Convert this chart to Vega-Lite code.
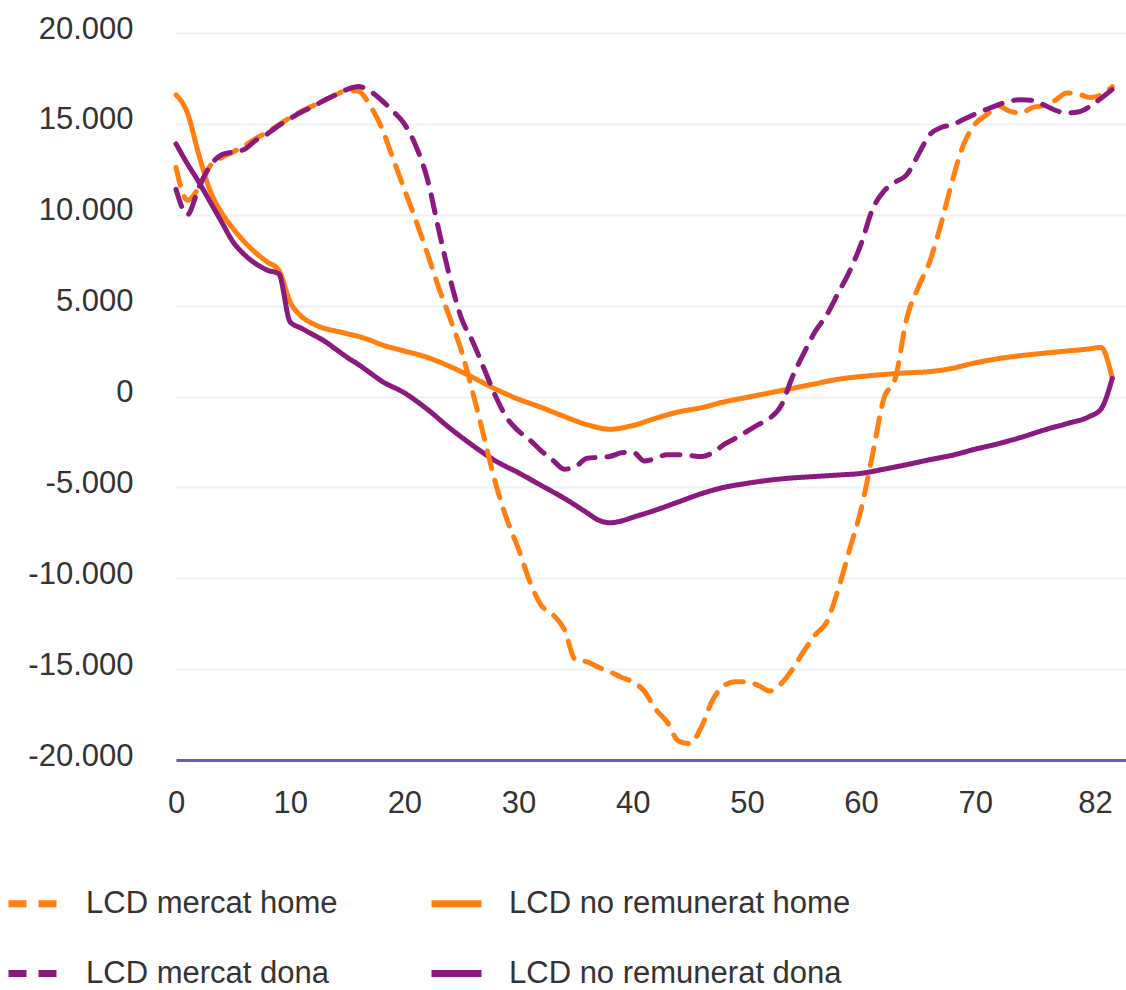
{
  "$schema": "https://vega.github.io/schema/vega-lite/v6.json",
  "width": 950,
  "height": 727,
  "autosize": {"type": "none"},
  "padding": {"left": 176, "top": 33, "right": 0, "bottom": 230},
  "background": "white",
  "config": {
    "view": {"stroke": null},
    "font": "Liberation Sans",
    "axis": {"labelFont": "Liberation Sans", "labelFontSize": 31, "labelColor": "#333333"},
    "legend": {"labelFont": "Liberation Sans", "labelFontSize": 31, "labelColor": "#333333"}
  },
  "datasets": {
    "lcd": [
      {"serie": "LCD no remunerat home", "edat": 0, "valor": 16600},
      {"serie": "LCD no remunerat home", "edat": 1, "valor": 15600},
      {"serie": "LCD no remunerat home", "edat": 2, "valor": 13300},
      {"serie": "LCD no remunerat home", "edat": 3, "valor": 11300},
      {"serie": "LCD no remunerat home", "edat": 4, "valor": 10100},
      {"serie": "LCD no remunerat home", "edat": 5, "valor": 9240},
      {"serie": "LCD no remunerat home", "edat": 6, "valor": 8500},
      {"serie": "LCD no remunerat home", "edat": 7, "valor": 7900},
      {"serie": "LCD no remunerat home", "edat": 8, "valor": 7400},
      {"serie": "LCD no remunerat home", "edat": 9, "valor": 6950},
      {"serie": "LCD no remunerat home", "edat": 10, "valor": 5200},
      {"serie": "LCD no remunerat home", "edat": 11, "valor": 4400},
      {"serie": "LCD no remunerat home", "edat": 12, "valor": 4000},
      {"serie": "LCD no remunerat home", "edat": 13, "valor": 3750},
      {"serie": "LCD no remunerat home", "edat": 14, "valor": 3600},
      {"serie": "LCD no remunerat home", "edat": 15, "valor": 3450},
      {"serie": "LCD no remunerat home", "edat": 16, "valor": 3300},
      {"serie": "LCD no remunerat home", "edat": 17, "valor": 3100},
      {"serie": "LCD no remunerat home", "edat": 18, "valor": 2850},
      {"serie": "LCD no remunerat home", "edat": 20, "valor": 2500},
      {"serie": "LCD no remunerat home", "edat": 22, "valor": 2150},
      {"serie": "LCD no remunerat home", "edat": 24, "valor": 1650},
      {"serie": "LCD no remunerat home", "edat": 26, "valor": 1050},
      {"serie": "LCD no remunerat home", "edat": 28, "valor": 400},
      {"serie": "LCD no remunerat home", "edat": 30, "valor": -150},
      {"serie": "LCD no remunerat home", "edat": 32, "valor": -600},
      {"serie": "LCD no remunerat home", "edat": 34, "valor": -1100},
      {"serie": "LCD no remunerat home", "edat": 36, "valor": -1550},
      {"serie": "LCD no remunerat home", "edat": 38, "valor": -1800},
      {"serie": "LCD no remunerat home", "edat": 40, "valor": -1600},
      {"serie": "LCD no remunerat home", "edat": 42, "valor": -1200},
      {"serie": "LCD no remunerat home", "edat": 44, "valor": -850},
      {"serie": "LCD no remunerat home", "edat": 46, "valor": -620},
      {"serie": "LCD no remunerat home", "edat": 48, "valor": -300},
      {"serie": "LCD no remunerat home", "edat": 50, "valor": -50},
      {"serie": "LCD no remunerat home", "edat": 52, "valor": 200},
      {"serie": "LCD no remunerat home", "edat": 54, "valor": 450},
      {"serie": "LCD no remunerat home", "edat": 56, "valor": 700},
      {"serie": "LCD no remunerat home", "edat": 58, "valor": 950},
      {"serie": "LCD no remunerat home", "edat": 60, "valor": 1100},
      {"serie": "LCD no remunerat home", "edat": 62, "valor": 1210},
      {"serie": "LCD no remunerat home", "edat": 64, "valor": 1300},
      {"serie": "LCD no remunerat home", "edat": 66, "valor": 1370},
      {"serie": "LCD no remunerat home", "edat": 68, "valor": 1550},
      {"serie": "LCD no remunerat home", "edat": 70, "valor": 1850},
      {"serie": "LCD no remunerat home", "edat": 72, "valor": 2080},
      {"serie": "LCD no remunerat home", "edat": 74, "valor": 2250},
      {"serie": "LCD no remunerat home", "edat": 76, "valor": 2380},
      {"serie": "LCD no remunerat home", "edat": 78, "valor": 2500},
      {"serie": "LCD no remunerat home", "edat": 80, "valor": 2620},
      {"serie": "LCD no remunerat home", "edat": 81, "valor": 2700},
      {"serie": "LCD no remunerat home", "edat": 82, "valor": 1000},

      {"serie": "LCD no remunerat dona", "edat": 0, "valor": 13900},
      {"serie": "LCD no remunerat dona", "edat": 1, "valor": 12800},
      {"serie": "LCD no remunerat dona", "edat": 2, "valor": 11800},
      {"serie": "LCD no remunerat dona", "edat": 3, "valor": 10700},
      {"serie": "LCD no remunerat dona", "edat": 4, "valor": 9600},
      {"serie": "LCD no remunerat dona", "edat": 5, "valor": 8500},
      {"serie": "LCD no remunerat dona", "edat": 6, "valor": 7800},
      {"serie": "LCD no remunerat dona", "edat": 7, "valor": 7300},
      {"serie": "LCD no remunerat dona", "edat": 8, "valor": 6950},
      {"serie": "LCD no remunerat dona", "edat": 9, "valor": 6750},
      {"serie": "LCD no remunerat dona", "edat": 10, "valor": 4100},
      {"serie": "LCD no remunerat dona", "edat": 11, "valor": 3750},
      {"serie": "LCD no remunerat dona", "edat": 12, "valor": 3400},
      {"serie": "LCD no remunerat dona", "edat": 13, "valor": 3050},
      {"serie": "LCD no remunerat dona", "edat": 14, "valor": 2600},
      {"serie": "LCD no remunerat dona", "edat": 15, "valor": 2150},
      {"serie": "LCD no remunerat dona", "edat": 16, "valor": 1750},
      {"serie": "LCD no remunerat dona", "edat": 17, "valor": 1300},
      {"serie": "LCD no remunerat dona", "edat": 18, "valor": 850},
      {"serie": "LCD no remunerat dona", "edat": 20, "valor": 200},
      {"serie": "LCD no remunerat dona", "edat": 22, "valor": -700},
      {"serie": "LCD no remunerat dona", "edat": 24, "valor": -1750},
      {"serie": "LCD no remunerat dona", "edat": 26, "valor": -2700},
      {"serie": "LCD no remunerat dona", "edat": 28, "valor": -3550},
      {"serie": "LCD no remunerat dona", "edat": 30, "valor": -4200},
      {"serie": "LCD no remunerat dona", "edat": 32, "valor": -4900},
      {"serie": "LCD no remunerat dona", "edat": 34, "valor": -5600},
      {"serie": "LCD no remunerat dona", "edat": 36, "valor": -6400},
      {"serie": "LCD no remunerat dona", "edat": 37, "valor": -6800},
      {"serie": "LCD no remunerat dona", "edat": 38, "valor": -6950},
      {"serie": "LCD no remunerat dona", "edat": 39, "valor": -6850},
      {"serie": "LCD no remunerat dona", "edat": 40, "valor": -6650},
      {"serie": "LCD no remunerat dona", "edat": 42, "valor": -6250},
      {"serie": "LCD no remunerat dona", "edat": 44, "valor": -5800},
      {"serie": "LCD no remunerat dona", "edat": 46, "valor": -5350},
      {"serie": "LCD no remunerat dona", "edat": 48, "valor": -5000},
      {"serie": "LCD no remunerat dona", "edat": 50, "valor": -4780},
      {"serie": "LCD no remunerat dona", "edat": 52, "valor": -4600},
      {"serie": "LCD no remunerat dona", "edat": 54, "valor": -4480},
      {"serie": "LCD no remunerat dona", "edat": 56, "valor": -4400},
      {"serie": "LCD no remunerat dona", "edat": 58, "valor": -4320},
      {"serie": "LCD no remunerat dona", "edat": 60, "valor": -4230},
      {"serie": "LCD no remunerat dona", "edat": 62, "valor": -4000},
      {"serie": "LCD no remunerat dona", "edat": 64, "valor": -3750},
      {"serie": "LCD no remunerat dona", "edat": 66, "valor": -3480},
      {"serie": "LCD no remunerat dona", "edat": 68, "valor": -3230},
      {"serie": "LCD no remunerat dona", "edat": 70, "valor": -2900},
      {"serie": "LCD no remunerat dona", "edat": 72, "valor": -2600},
      {"serie": "LCD no remunerat dona", "edat": 74, "valor": -2250},
      {"serie": "LCD no remunerat dona", "edat": 76, "valor": -1850},
      {"serie": "LCD no remunerat dona", "edat": 78, "valor": -1500},
      {"serie": "LCD no remunerat dona", "edat": 80, "valor": -1100},
      {"serie": "LCD no remunerat dona", "edat": 81, "valor": -700},
      {"serie": "LCD no remunerat dona", "edat": 82, "valor": 1000},

      {"serie": "LCD mercat home", "edat": 0, "valor": 12600},
      {"serie": "LCD mercat home", "edat": 1, "valor": 10800},
      {"serie": "LCD mercat home", "edat": 2, "valor": 11500},
      {"serie": "LCD mercat home", "edat": 3, "valor": 12700},
      {"serie": "LCD mercat home", "edat": 4, "valor": 13150},
      {"serie": "LCD mercat home", "edat": 5, "valor": 13450},
      {"serie": "LCD mercat home", "edat": 6, "valor": 13800},
      {"serie": "LCD mercat home", "edat": 7, "valor": 14200},
      {"serie": "LCD mercat home", "edat": 8, "valor": 14550},
      {"serie": "LCD mercat home", "edat": 9, "valor": 14950},
      {"serie": "LCD mercat home", "edat": 10, "valor": 15350},
      {"serie": "LCD mercat home", "edat": 11, "valor": 15700},
      {"serie": "LCD mercat home", "edat": 12, "valor": 16000},
      {"serie": "LCD mercat home", "edat": 13, "valor": 16300},
      {"serie": "LCD mercat home", "edat": 14, "valor": 16600},
      {"serie": "LCD mercat home", "edat": 15, "valor": 16850},
      {"serie": "LCD mercat home", "edat": 16, "valor": 16800},
      {"serie": "LCD mercat home", "edat": 17, "valor": 16000},
      {"serie": "LCD mercat home", "edat": 18, "valor": 14800},
      {"serie": "LCD mercat home", "edat": 19, "valor": 13100},
      {"serie": "LCD mercat home", "edat": 20, "valor": 11400},
      {"serie": "LCD mercat home", "edat": 21, "valor": 9700},
      {"serie": "LCD mercat home", "edat": 22, "valor": 7900},
      {"serie": "LCD mercat home", "edat": 23, "valor": 6000},
      {"serie": "LCD mercat home", "edat": 24, "valor": 4300},
      {"serie": "LCD mercat home", "edat": 25, "valor": 2500},
      {"serie": "LCD mercat home", "edat": 26, "valor": 200},
      {"serie": "LCD mercat home", "edat": 27, "valor": -2300},
      {"serie": "LCD mercat home", "edat": 28, "valor": -4800},
      {"serie": "LCD mercat home", "edat": 29, "valor": -6800},
      {"serie": "LCD mercat home", "edat": 30, "valor": -8400},
      {"serie": "LCD mercat home", "edat": 31, "valor": -10200},
      {"serie": "LCD mercat home", "edat": 32, "valor": -11500},
      {"serie": "LCD mercat home", "edat": 33, "valor": -12000},
      {"serie": "LCD mercat home", "edat": 34, "valor": -12800},
      {"serie": "LCD mercat home", "edat": 35, "valor": -14500},
      {"serie": "LCD mercat home", "edat": 36, "valor": -14600},
      {"serie": "LCD mercat home", "edat": 37, "valor": -14900},
      {"serie": "LCD mercat home", "edat": 38, "valor": -15150},
      {"serie": "LCD mercat home", "edat": 39, "valor": -15450},
      {"serie": "LCD mercat home", "edat": 40, "valor": -15700},
      {"serie": "LCD mercat home", "edat": 41, "valor": -16200},
      {"serie": "LCD mercat home", "edat": 42, "valor": -17200},
      {"serie": "LCD mercat home", "edat": 43, "valor": -17900},
      {"serie": "LCD mercat home", "edat": 44, "valor": -18950},
      {"serie": "LCD mercat home", "edat": 45, "valor": -19100},
      {"serie": "LCD mercat home", "edat": 46, "valor": -18200},
      {"serie": "LCD mercat home", "edat": 47, "valor": -16700},
      {"serie": "LCD mercat home", "edat": 48, "valor": -15900},
      {"serie": "LCD mercat home", "edat": 49, "valor": -15700},
      {"serie": "LCD mercat home", "edat": 50, "valor": -15700},
      {"serie": "LCD mercat home", "edat": 51, "valor": -15900},
      {"serie": "LCD mercat home", "edat": 52, "valor": -16200},
      {"serie": "LCD mercat home", "edat": 53, "valor": -15800},
      {"serie": "LCD mercat home", "edat": 54, "valor": -15000},
      {"serie": "LCD mercat home", "edat": 55, "valor": -14000},
      {"serie": "LCD mercat home", "edat": 56, "valor": -13100},
      {"serie": "LCD mercat home", "edat": 57, "valor": -12400},
      {"serie": "LCD mercat home", "edat": 58, "valor": -10600},
      {"serie": "LCD mercat home", "edat": 59, "valor": -8400},
      {"serie": "LCD mercat home", "edat": 60, "valor": -6200},
      {"serie": "LCD mercat home", "edat": 61, "valor": -3200},
      {"serie": "LCD mercat home", "edat": 62, "valor": -100},
      {"serie": "LCD mercat home", "edat": 63, "valor": 1000},
      {"serie": "LCD mercat home", "edat": 64, "valor": 4300},
      {"serie": "LCD mercat home", "edat": 65, "valor": 6000},
      {"serie": "LCD mercat home", "edat": 66, "valor": 7400},
      {"serie": "LCD mercat home", "edat": 67, "valor": 9500},
      {"serie": "LCD mercat home", "edat": 68, "valor": 11900},
      {"serie": "LCD mercat home", "edat": 69, "valor": 13900},
      {"serie": "LCD mercat home", "edat": 70, "valor": 15000},
      {"serie": "LCD mercat home", "edat": 71, "valor": 15500},
      {"serie": "LCD mercat home", "edat": 72, "valor": 16000},
      {"serie": "LCD mercat home", "edat": 73, "valor": 15700},
      {"serie": "LCD mercat home", "edat": 74, "valor": 15600},
      {"serie": "LCD mercat home", "edat": 75, "valor": 15900},
      {"serie": "LCD mercat home", "edat": 76, "valor": 16000},
      {"serie": "LCD mercat home", "edat": 77, "valor": 16300},
      {"serie": "LCD mercat home", "edat": 78, "valor": 16700},
      {"serie": "LCD mercat home", "edat": 79, "valor": 16650},
      {"serie": "LCD mercat home", "edat": 80, "valor": 16450},
      {"serie": "LCD mercat home", "edat": 81, "valor": 16600},
      {"serie": "LCD mercat home", "edat": 82, "valor": 17050},

      {"serie": "LCD mercat dona", "edat": 0, "valor": 11400},
      {"serie": "LCD mercat dona", "edat": 1, "valor": 10000},
      {"serie": "LCD mercat dona", "edat": 2, "valor": 11500},
      {"serie": "LCD mercat dona", "edat": 3, "valor": 12700},
      {"serie": "LCD mercat dona", "edat": 4, "valor": 13300},
      {"serie": "LCD mercat dona", "edat": 5, "valor": 13450},
      {"serie": "LCD mercat dona", "edat": 6, "valor": 13600},
      {"serie": "LCD mercat dona", "edat": 7, "valor": 14100},
      {"serie": "LCD mercat dona", "edat": 8, "valor": 14450},
      {"serie": "LCD mercat dona", "edat": 9, "valor": 14900},
      {"serie": "LCD mercat dona", "edat": 10, "valor": 15300},
      {"serie": "LCD mercat dona", "edat": 11, "valor": 15650},
      {"serie": "LCD mercat dona", "edat": 12, "valor": 15950},
      {"serie": "LCD mercat dona", "edat": 13, "valor": 16300},
      {"serie": "LCD mercat dona", "edat": 14, "valor": 16600},
      {"serie": "LCD mercat dona", "edat": 15, "valor": 16900},
      {"serie": "LCD mercat dona", "edat": 16, "valor": 17050},
      {"serie": "LCD mercat dona", "edat": 17, "valor": 16800},
      {"serie": "LCD mercat dona", "edat": 18, "valor": 16300},
      {"serie": "LCD mercat dona", "edat": 19, "valor": 15700},
      {"serie": "LCD mercat dona", "edat": 20, "valor": 15000},
      {"serie": "LCD mercat dona", "edat": 21, "valor": 13800},
      {"serie": "LCD mercat dona", "edat": 22, "valor": 12000},
      {"serie": "LCD mercat dona", "edat": 23, "valor": 9200},
      {"serie": "LCD mercat dona", "edat": 24, "valor": 6500},
      {"serie": "LCD mercat dona", "edat": 25, "valor": 4300},
      {"serie": "LCD mercat dona", "edat": 26, "valor": 3000},
      {"serie": "LCD mercat dona", "edat": 27, "valor": 1500},
      {"serie": "LCD mercat dona", "edat": 28, "valor": 0},
      {"serie": "LCD mercat dona", "edat": 29, "valor": -1200},
      {"serie": "LCD mercat dona", "edat": 30, "valor": -1900},
      {"serie": "LCD mercat dona", "edat": 31, "valor": -2400},
      {"serie": "LCD mercat dona", "edat": 32, "valor": -3000},
      {"serie": "LCD mercat dona", "edat": 33, "valor": -3500},
      {"serie": "LCD mercat dona", "edat": 34, "valor": -4000},
      {"serie": "LCD mercat dona", "edat": 35, "valor": -3850},
      {"serie": "LCD mercat dona", "edat": 36, "valor": -3400},
      {"serie": "LCD mercat dona", "edat": 37, "valor": -3350},
      {"serie": "LCD mercat dona", "edat": 38, "valor": -3300},
      {"serie": "LCD mercat dona", "edat": 39, "valor": -3100},
      {"serie": "LCD mercat dona", "edat": 40, "valor": -3050},
      {"serie": "LCD mercat dona", "edat": 41, "valor": -3550},
      {"serie": "LCD mercat dona", "edat": 42, "valor": -3400},
      {"serie": "LCD mercat dona", "edat": 43, "valor": -3200},
      {"serie": "LCD mercat dona", "edat": 44, "valor": -3200},
      {"serie": "LCD mercat dona", "edat": 45, "valor": -3250},
      {"serie": "LCD mercat dona", "edat": 46, "valor": -3300},
      {"serie": "LCD mercat dona", "edat": 47, "valor": -3100},
      {"serie": "LCD mercat dona", "edat": 48, "valor": -2640},
      {"serie": "LCD mercat dona", "edat": 49, "valor": -2300},
      {"serie": "LCD mercat dona", "edat": 50, "valor": -1925},
      {"serie": "LCD mercat dona", "edat": 51, "valor": -1550},
      {"serie": "LCD mercat dona", "edat": 52, "valor": -1200},
      {"serie": "LCD mercat dona", "edat": 53, "valor": -500},
      {"serie": "LCD mercat dona", "edat": 54, "valor": 1100},
      {"serie": "LCD mercat dona", "edat": 55, "valor": 2400},
      {"serie": "LCD mercat dona", "edat": 56, "valor": 3600},
      {"serie": "LCD mercat dona", "edat": 57, "valor": 4500},
      {"serie": "LCD mercat dona", "edat": 58, "valor": 5700},
      {"serie": "LCD mercat dona", "edat": 59, "valor": 6900},
      {"serie": "LCD mercat dona", "edat": 60, "valor": 8400},
      {"serie": "LCD mercat dona", "edat": 61, "valor": 10300},
      {"serie": "LCD mercat dona", "edat": 62, "valor": 11300},
      {"serie": "LCD mercat dona", "edat": 63, "valor": 11800},
      {"serie": "LCD mercat dona", "edat": 64, "valor": 12200},
      {"serie": "LCD mercat dona", "edat": 65, "valor": 13300},
      {"serie": "LCD mercat dona", "edat": 66, "valor": 14400},
      {"serie": "LCD mercat dona", "edat": 67, "valor": 14800},
      {"serie": "LCD mercat dona", "edat": 68, "valor": 14950},
      {"serie": "LCD mercat dona", "edat": 69, "valor": 15250},
      {"serie": "LCD mercat dona", "edat": 70, "valor": 15550},
      {"serie": "LCD mercat dona", "edat": 71, "valor": 15800},
      {"serie": "LCD mercat dona", "edat": 72, "valor": 16050},
      {"serie": "LCD mercat dona", "edat": 73, "valor": 16250},
      {"serie": "LCD mercat dona", "edat": 74, "valor": 16330},
      {"serie": "LCD mercat dona", "edat": 75, "valor": 16300},
      {"serie": "LCD mercat dona", "edat": 76, "valor": 16050},
      {"serie": "LCD mercat dona", "edat": 77, "valor": 15750},
      {"serie": "LCD mercat dona", "edat": 78, "valor": 15600},
      {"serie": "LCD mercat dona", "edat": 79, "valor": 15650},
      {"serie": "LCD mercat dona", "edat": 80, "valor": 15950},
      {"serie": "LCD mercat dona", "edat": 81, "valor": 16400},
      {"serie": "LCD mercat dona", "edat": 82, "valor": 16900}
    ]
  },
  "data": {"name": "lcd"},
  "mark": {"type": "line", "strokeWidth": 5, "interpolate": "monotone", "strokeCap": "round", "strokeJoin": "round"},
  "encoding": {
    "x": {
      "field": "edat",
      "type": "quantitative",
      "scale": {"domain": [0, 83.2], "nice": false, "zero": false},
      "axis": {
        "title": null,
        "values": [0, 10, 20, 30, 40, 50, 60, 70, 82],
        "grid": false,
        "ticks": false,
        "domain": true,
        "domainColor": "#6a5db4",
        "domainWidth": 3,
        "labelPadding": 28,
        "labelAlign": {"condition": {"test": "datum.value == 82", "value": "right"}, "value": "center"}
      }
    },
    "y": {
      "field": "valor",
      "type": "quantitative",
      "scale": {"domain": [-20000, 20000], "nice": false},
      "axis": {
        "title": null,
        "values": [-20000, -15000, -10000, -5000, 0, 5000, 10000, 15000, 20000],
        "domain": false,
        "ticks": false,
        "grid": true,
        "gridColor": "#efeff6",
        "gridWidth": 2,
        "labelPadding": 43,
        "labelOffset": -4,
        "labelExpr": "replace(replace(format(datum.value, ','), ',', '.'), '\u2212', '-')"
      }
    },
    "color": {
      "field": "serie",
      "type": "nominal",
      "scale": {
        "domain": ["LCD mercat home", "LCD mercat dona", "LCD no remunerat home", "LCD no remunerat dona"],
        "range": ["#ff7f11", "#8b1a7f", "#ff7f11", "#8b1a7f"]
      },
      "legend": {
        "title": null,
        "orient": "none",
        "legendX": -171,
        "legendY": 842,
        "columns": 2,
        "columnPadding": 79,
        "rowPadding": 26,
        "symbolType": "stroke",
        "symbolSize": 2500,
        "symbolStrokeWidth": 7,
        "labelOffset": 24,
        "labelLimit": 500
      }
    },
    "strokeDash": {
      "field": "serie",
      "type": "nominal",
      "scale": {
        "domain": ["LCD mercat home", "LCD mercat dona", "LCD no remunerat home", "LCD no remunerat dona"],
        "range": [[18, 12], [18, 12], [1, 0], [1, 0]]
      },
      "legend": null
    }
  }
}
